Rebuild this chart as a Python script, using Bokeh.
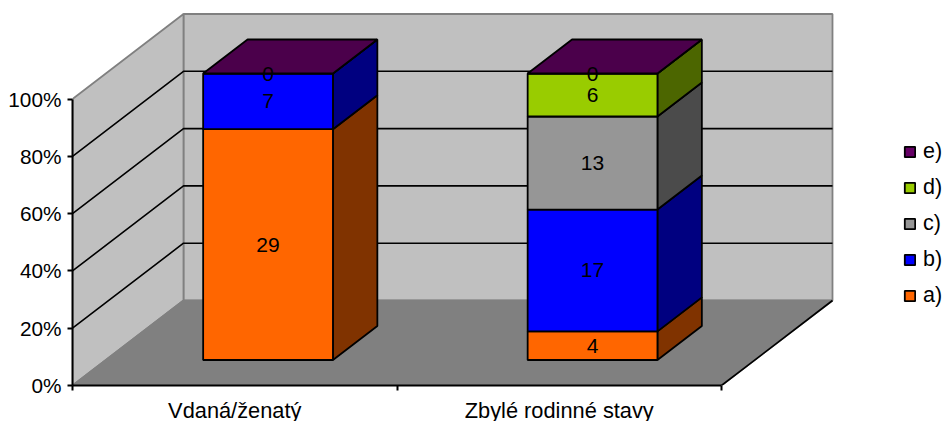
from bokeh.core.properties import value
from bokeh.embed import file_html
from bokeh.models import (ColumnDataSource, FixedTicker, Legend, LegendItem,
                          LinearAxis, Range1d)
from bokeh.plotting import figure
from bokeh.resources import INLINE

categories = ["Vdaná/ženatý", "Zbylé rodinné stavy"]
series_names = ["a)", "b)", "c)", "d)", "e)"]
series_a = [29, 4]
series_b = [7, 17]
series_c = [None, 13]
series_d = [None, 6]
series_e = [0, 0]
all_series = [series_a, series_b, series_c, series_d, series_e]
front_colors = ["#FF6600", "#0000FF", "#969696", "#99CC00", "#660066"]
side_colors = ["#803300", "#000080", "#4B4B4B", "#4C6600", "#330033"]
top_color = "#4B004B"
y_ticks = [0, 20, 40, 60, 80, 100]

FONT = "Liberation Sans"
PX_X = 324.5          # pixels per category
PX_Y = 2.865          # pixels per percent
DX = 111 / PX_X       # projection of the full depth, in data units
DY = 85 / PX_Y
FRAME_W, FRAME_H = 871, 378
HALF = 0.2
D0, D1 = 0.3, 0.7


def pr(x, y, d):
    return x + d * DX, y + d * DY


def poly(points):
    pts = [pr(*q) for q in points]
    return [q[0] for q in pts], [q[1] for q in pts]


p = figure(width=943, height=421, frame_width=FRAME_W, frame_height=FRAME_H,
           output_backend="svg", toolbar_location=None,
           x_range=Range1d(0, FRAME_W / PX_X), y_range=Range1d(0, FRAME_H / PX_Y),
           x_axis_location=None, y_axis_location=None,
           min_border_left=72, min_border_right=0, min_border_top=7, min_border_bottom=36,
           outline_line_color=None, background_fill_color=None, border_fill_color="white")
p.grid.visible = False

n = len(categories)
walls = [
    poly([(0, 0, 1), (n, 0, 1), (n, 100, 1), (0, 100, 1)]),
    poly([(0, 0, 0), (0, 0, 1), (0, 100, 1), (0, 100, 0)]),
]
p.patches([w[0] for w in walls], [w[1] for w in walls], fill_color="#C0C0C0",
          line_color="#808080", line_width=1.8)
fx, fy = poly([(0, 0, 0), (n, 0, 0), (n, 0, 1), (0, 0, 1)])
p.patch(fx, fy, fill_color="#808080", line_color="#808080", line_width=1.6)
ex, ey = poly([(n, 0, 0), (n, 0, 1)])
p.line(ex, ey, line_color="black", line_width=1.7)

grid_x, grid_y = [], []
for t in y_ticks:
    if t in (0, 100):
        continue
    a, b = poly([(0, t, 0), (0, t, 1), (n, t, 1)])
    grid_x.append(a)
    grid_y.append(b)
p.multi_line(grid_x, grid_y, line_color="black", line_width=1.6)

totals = [sum(s[i] or 0 for s in all_series) for i in range(n)]
cum = [0.0] * n
label_x, label_y, label_t = [], [], []
legend_rs = {}
for name, vals, fc, sc in zip(series_names, all_series, front_colors, side_colors):
    f_xs, f_ys, s_xs, s_ys = [], [], [], []
    for i, v in enumerate(vals):
        if v is None:
            continue
        c = i + 0.5
        lo = cum[i]
        hi = lo + v / totals[i] * 100
        cum[i] = hi
        a, b = poly([(c - HALF, lo, D0), (c + HALF, lo, D0), (c + HALF, hi, D0), (c - HALF, hi, D0)])
        f_xs.append(a)
        f_ys.append(b)
        a, b = poly([(c + HALF, lo, D0), (c + HALF, lo, D1), (c + HALF, hi, D1), (c + HALF, hi, D0)])
        s_xs.append(a)
        s_ys.append(b)
        lx, ly = pr(c, (lo + hi) / 2, D0)
        label_x.append(lx)
        label_y.append(ly)
        label_t.append(str(v))
    p.patches(s_xs, s_ys, fill_color=sc, line_color="black", line_width=1.8)
    legend_rs[name] = p.patches(f_xs, f_ys, fill_color=fc, line_color="black", line_width=1.8)

t_xs, t_ys = [], []
for i in range(n):
    c = i + 0.5
    a, b = poly([(c - HALF, cum[i], D0), (c + HALF, cum[i], D0), (c + HALF, cum[i], D1), (c - HALF, cum[i], D1)])
    t_xs.append(a)
    t_ys.append(b)
p.patches(t_xs, t_ys, fill_color=top_color, line_color="black", line_width=1.8)

p.text(x="x", y="y", text="t", source=ColumnDataSource(dict(x=label_x, y=label_y, t=label_t)),
       text_align="center", text_baseline="middle", text_color="black",
       text_font=value(FONT), text_font_size="21px")

yaxis = LinearAxis(ticker=FixedTicker(ticks=y_ticks), bounds=(0, 100))
yaxis.major_label_overrides = {t: f"{t}%" for t in y_ticks}
yaxis.major_tick_out = 5
yaxis.major_tick_in = 0
yaxis.minor_tick_line_color = None
yaxis.axis_line_color = "black"
yaxis.axis_line_width = 2
yaxis.major_tick_line_color = "black"
yaxis.major_tick_line_width = 2
yaxis.major_label_text_font = FONT
yaxis.major_label_text_font_size = "20.8px"
yaxis.major_label_text_color = "black"
yaxis.major_label_standoff = 6
p.add_layout(yaxis, "left")

centers = [i + 0.5 for i in range(n)]
xaxis = LinearAxis(ticker=FixedTicker(ticks=centers, minor_ticks=list(range(n + 1))), bounds=(0, n))
xaxis.major_label_overrides = dict(zip(centers, categories))
xaxis.major_tick_line_color = None
xaxis.major_tick_out = 0
xaxis.major_tick_in = 0
xaxis.minor_tick_out = 5
xaxis.minor_tick_in = 0
xaxis.minor_tick_line_color = "black"
xaxis.minor_tick_line_width = 2
xaxis.axis_line_color = "black"
xaxis.axis_line_width = 2
xaxis.major_label_text_font = FONT
xaxis.major_label_text_font_size = "21.8px"
xaxis.major_label_text_color = "black"
xaxis.major_label_standoff = 7
p.add_layout(xaxis, "below")

legend = Legend(items=[LegendItem(label=name, renderers=[legend_rs[name]]) for name in reversed(series_names)],
                location=(831, 77), orientation="vertical", background_fill_alpha=0,
                border_line_color=None, padding=0, margin=0, spacing=11,
                glyph_width=13, glyph_height=13, label_standoff=7,
                label_text_font=FONT, label_text_font_size="21.5px", label_text_color="black")
p.add_layout(legend, "center")

open("out.html", "w").write(file_html(p, INLINE))
